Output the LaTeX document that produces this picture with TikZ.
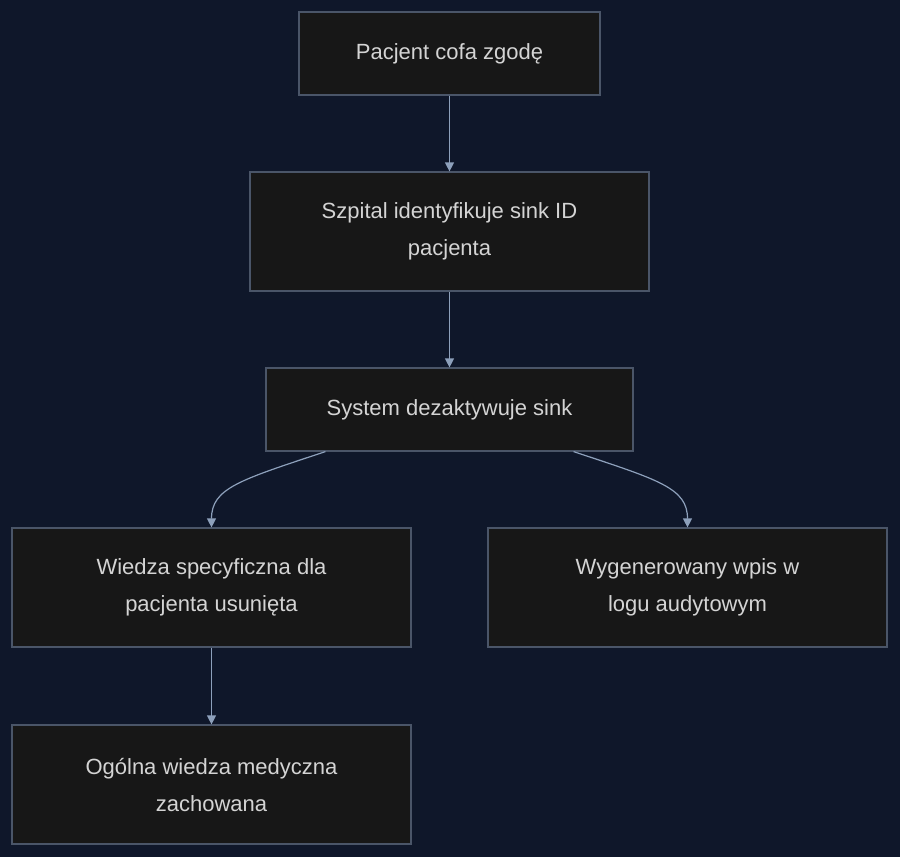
\documentclass[tikz,border=0pt]{standalone}
\usepackage{fontspec}
\setmainfont{Liberation Sans}
\usetikzlibrary{arrows.meta}
\definecolor{bg}{HTML}{0F172A}
\definecolor{boxfill}{HTML}{171717}
\definecolor{boxline}{HTML}{4A5568}
\definecolor{txt}{HTML}{D4D4D4}
\definecolor{arr}{HTML}{8DA0BB}
\begin{document}
\begin{tikzpicture}[x=1pt,y=-1pt,
  box/.style={draw=boxline,fill=boxfill,line width=1.2pt,inner sep=0pt,text=txt,align=center,
    font=\fontsize{22}{37}\selectfont},
  conn/.style={draw=arr,line width=1.2pt,-{Triangle[length=9pt,width=9pt]}}]
\fill[bg] (0,0) rectangle (900,857);
\useasboundingbox (0,0) rectangle (900,857);
\node[box,minimum width=301pt,minimum height=83pt] (a) at (449.5,53.5) {Pacjent cofa zgodę};
\node[box,minimum width=399pt,minimum height=119pt] (b) at (449.5,231.5) {Szpital identyfikuje sink ID\\pacjenta};
\node[box,minimum width=367pt,minimum height=83pt] (c) at (449.5,409.5) {System dezaktywuje sink};
\node[box,minimum width=399pt,minimum height=119pt] (d) at (211.5,587.5) {Wiedza specyficzna dla\\pacjenta usunięta};
\node[box,minimum width=399pt,minimum height=119pt] (e) at (687.5,587.5) {Wygenerowany wpis w\\logu audytowym};
\node[box,minimum width=399pt,minimum height=119pt] (f) at (211.5,784.5) {Ogólna wiedza medyczna\\zachowana};
\draw[conn] (a.south) -- (b.north);
\draw[conn] (b.south) -- (c.north);
\draw[conn] (c.south west) ++(60,0) coordinate (c1) (c1) .. controls (240,480) and (211.5,488) .. (d.north);
\draw[conn] (c.south east) ++(-60,0) coordinate (c2) (c2) .. controls (659,480) and (687.5,488) .. (e.north);
\draw[conn] (d.south) -- (f.north);
\end{tikzpicture}
\end{document}
